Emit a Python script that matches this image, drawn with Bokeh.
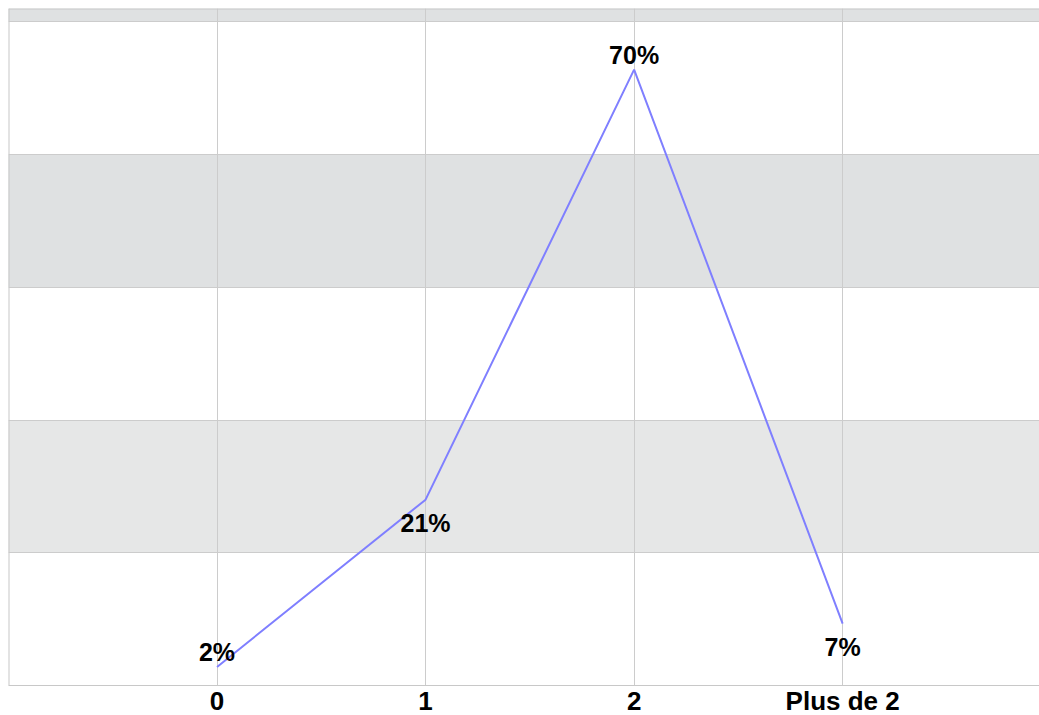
from bokeh.plotting import figure
from bokeh.models import Range1d, FixedTicker, Span, Grid, ColumnDataSource
from bokeh.embed import file_html
from bokeh.resources import INLINE
from bokeh.core.properties import value

categories = ["0", "1", "2", "Plus de 2"]
shares = [2.1, 21.0, 69.6, 7.0]
share_labels = ["2%", "21%", "70%", "7%"]
label_side = ["above", "below", "above", "below"]
y_ticks = [0, 15, 30, 45, 60, 75]
band_bottoms = [15, 45, 75]
band_tops = [30, 60, 76.5]
band_colors = ["#e6e7e7", "#dfe1e2", "#dfe1e2"]

x = list(range(len(categories)))
offsets = [-15 if s == "above" else 23 for s in label_side]

p = figure(frame_width=1031, frame_height=677,
           x_range=Range1d(-1, 3.944), y_range=Range1d(0, 76.5),
           output_backend="svg", toolbar_location=None,
           y_axis_location=None, min_border=0,
           min_border_left=8, min_border_top=8, min_border_bottom=30)
p.outline_line_color = None
p.background_fill_color = "white"
p.border_fill_color = "white"

# bands below grid
p.quad(left=-10, right=10, bottom=band_bottoms, top=band_tops,
       fill_color=band_colors, line_color=None, level="image")

# grids
if len(p.ygrid) == 0:
    p.add_layout(Grid(dimension=1, ticker=FixedTicker(ticks=y_ticks)))
for g in p.ygrid:
    g.ticker = FixedTicker(ticks=y_ticks)
    g.grid_line_color = "#cccccc"
for g in p.xgrid:
    g.ticker = FixedTicker(ticks=x)
    g.grid_line_color = "#cccccc"

# borders
p.add_layout(Span(location=76.5, dimension="width", line_color="#c8c8c8", line_width=2))
p.add_layout(Span(location=-1, dimension="height", line_color="#c8c8c8", line_width=2))

# x axis
ax = p.xaxis[0]
ax.ticker = FixedTicker(ticks=x)
ax.major_label_overrides = {i: c for i, c in zip(x, categories)}
ax.major_tick_line_color = None
ax.minor_tick_line_color = None
ax.major_tick_out = 0
ax.major_tick_in = 0
ax.major_label_standoff = 0
ax.axis_line_color = "#c8c8c8"
ax.major_label_text_font = "Liberation Sans"
ax.major_label_text_font_style = "bold"
ax.major_label_text_font_size = "26px"
ax.major_label_text_color = "black"

p.line(x, shares, line_color="#7f7fff", line_width=2)

src = ColumnDataSource(dict(x=x, y=shares, t=share_labels, off=offsets))
p.text(x="x", y="y", text="t", source=src, y_offset="off",
       text_align="center", text_baseline="middle",
       text_font=value("Liberation Sans"), text_font_style="bold",
       text_font_size="25px", text_color="black")

open("out.html", "w").write(file_html(p, INLINE))
